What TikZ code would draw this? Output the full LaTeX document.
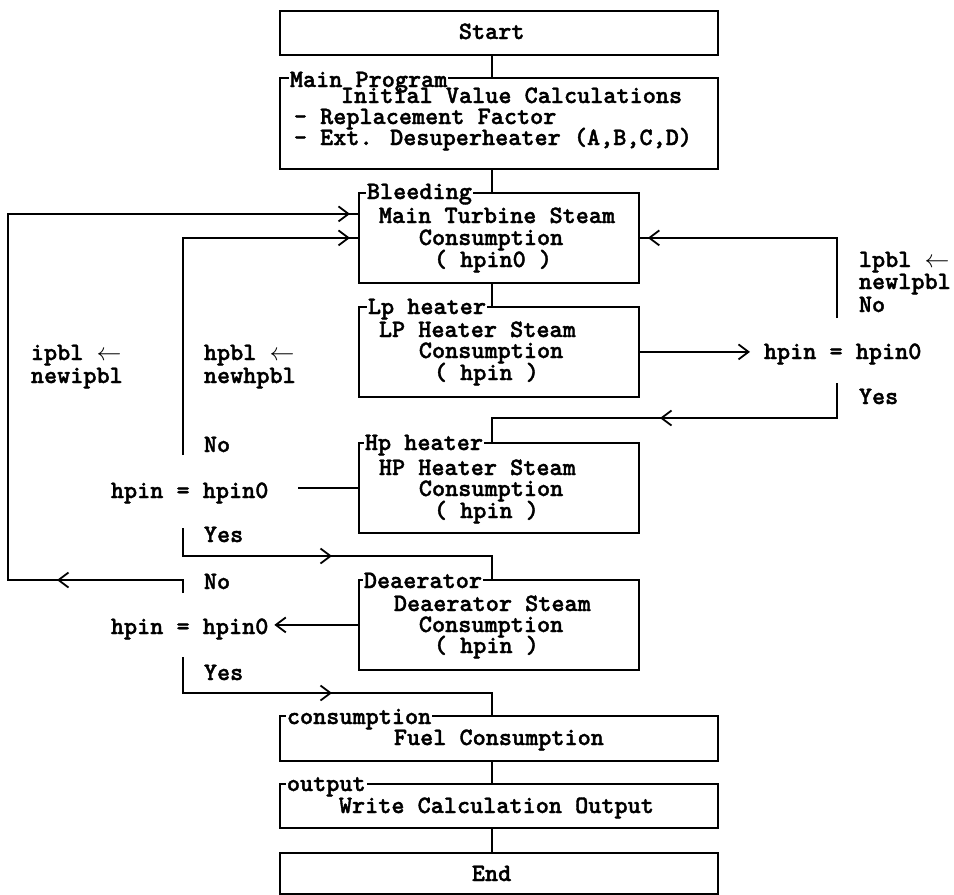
\documentclass[tikz,border=0pt]{standalone}
\usepackage{fontspec}
\usetikzlibrary{arrows.meta,decorations.markings}
\newfontfamily\flowfam{lmmonolt10-bold.otf}[FakeBold=1.5]
\newcommand\flowfont{\flowfam\fontsize{25}{25}\selectfont}
\tikzset{
  x=1pt, y=-1pt,
  every path/.style={line width=1.8pt},
  box/.style={draw, rectangle, anchor=north west, inner sep=0pt, line width=1.8pt},
  txt/.style={anchor=base west, inner sep=0pt, text height=16pt, text depth=4pt, font=\flowfont},
  lbl/.style={txt, fill=white, inner sep=1pt},
  barbtip/.tip={Straight Barb[length=10pt,width=15pt]},
  tip/.style={-barbtip},
  barb/.style={postaction=decorate,
    decoration={markings, mark=at position #1 with {\arrow{barbtip}}}},
}
\begin{document}
\begin{tikzpicture}
\useasboundingbox (0,0) rectangle (954,895);
\coordinate (cx) at (492,0);

% main column of boxes
\node[box, minimum width=438pt, minimum height=44pt] (start) at (279,10) {};
\node[txt] (startT) at (458,39) {Start};

\node[box, minimum width=438pt, minimum height=91pt] (mainp) at (279,77) {};
\node[lbl] (mainpL) at (288,87) {Main Program};
\node[txt] (mainp1) at (340,103) {Initial Value Calculations};
\node[txt] (mainp2) at (293,124) {- Replacement Factor};
\node[txt] (mainp3) at (293,145) {- Ext. Desuperheater (A,B,C,D)};

\node[box, minimum width=280pt, minimum height=90pt] (bleed) at (358,192) {};
\node[lbl] (bleedL) at (365,199) {Bleeding};
\node[txt] (bleed1) at (378,223) {Main Turbine Steam};
\node[txt] (bleed2) at (418,245) {Consumption};
\node[txt] (bleed3) at (433,267) {( hpin0 )};

\node[box, minimum width=280pt, minimum height=90pt] (lp) at (358,306) {};
\node[lbl] (lpL) at (366,314) {Lp heater};
\node[txt] (lp1) at (378,337) {LP Heater Steam};
\node[txt] (lp2) at (418,358) {Consumption};
\node[txt] (lp3) at (433,380) {( hpin )};

\node[box, minimum width=280pt, minimum height=90pt] (hp) at (358,442) {};
\node[lbl] (hpL) at (363,450) {Hp heater};
\node[txt] (hp1) at (378,475) {HP Heater Steam};
\node[txt] (hp2) at (418,496) {Consumption};
\node[txt] (hp3) at (433,518) {( hpin )};

\node[box, minimum width=280pt, minimum height=90pt] (dea) at (358,579) {};
\node[lbl] (deaL) at (362,588) {Deaerator};
\node[txt] (dea1) at (393,611) {Deaerator Steam};
\node[txt] (dea2) at (418,632) {Consumption};
\node[txt] (dea3) at (433,653) {( hpin )};

\node[box, minimum width=438pt, minimum height=45pt] (fuel) at (279,715) {};
\node[lbl] (fuelL) at (285,724) {consumption};
\node[txt] (fuel1) at (393,745) {Fuel Consumption};

\node[box, minimum width=438pt, minimum height=44pt] (out) at (279,783) {};
\node[lbl] (outL) at (285,791) {output};
\node[txt] (out1) at (338,813) {Write Calculation Output};

\node[box, minimum width=438pt, minimum height=41pt] (stop) at (279,852) {};
\node[txt] (stopT) at (471,881) {End};

% decisions and loop labels
\node[txt] (decR) at (763,359) {hpin = hpin0};
\node[txt] (decL1) at (110,498) {hpin = hpin0};
\node[txt] (decL2) at (110,634) {hpin = hpin0};

\node[txt] (lpA) at (858,267) {lpbl $\leftarrow$};
\node[txt] (lpB) at (858,289) {newlpbl};
\node[txt] (rNoT) at (858,312) {No};
\node[txt] (rYesT) at (858,404) {Yes};

\node[txt] (hpA) at (203,360) {hpbl $\leftarrow$};
\node[txt] (hpB) at (203,383) {newhpbl};
\node[txt] (ipA) at (30,360) {ipbl $\leftarrow$};
\node[txt] (ipB) at (30,383) {newipbl};

\node[txt] (l1NoT) at (203,452) {No};
\node[txt] (l1YesT) at (203,542) {Yes};
\node[txt] (l2NoT) at (203,589) {No};
\node[txt] (l2YesT) at (203,680) {Yes};

% straight flow
\draw (start.south -| cx) -- (mainp.north -| cx);
\draw (mainp.south -| cx) -- (bleed.north -| cx);
\draw (bleed.south -| cx) -- (lp.north -| cx);
\draw (fuel.south -| cx) -- (out.north -| cx);
\draw (out.south -| cx) -- (stop.north -| cx);

% LP heater check
\coordinate (rNo) at (837,318);
\coordinate (rYes) at (837,383);
\coordinate (rJoin) at (492,418);
\draw[tip, shorten >=13pt] (lp.east) -- (decR.west |- lp.east);
\draw[barb=-8pt] (rNo) |- (bleed.east);
\draw[barb=212pt] (rYes) |- (rJoin) -- (hp.north -| cx);

% HP heater check
\coordinate (l1No) at (183,455);
\coordinate (l1Yes) at (183,528);
\coordinate (l1Join) at (492,556);
\draw[shorten >=29pt] (hp.west) -- (decL1.east |- hp.west);
\draw[barb=-8pt] (l1No) |- (bleed.west);
\draw[barb=177pt] (l1Yes) |- (l1Join) -- (dea.north -| cx);

% deaerator check
\coordinate (l2No) at (183,593);
\coordinate (l2Out) at (8,580);
\coordinate (l2Yes) at (183,657);
\coordinate (l2Join) at (492,693);
\draw[tip, shorten >=5pt] (dea.west) -- (decL2.east |- dea.west);
\draw[postaction=decorate,
      decoration={markings,
        mark=at position 139pt with {\arrow{barbtip}},
        mark=at position -8pt with {\arrow{barbtip}}}]
  (l2No) |- (l2Out) |- ([yshift=24pt]bleed.west);
\draw[barb=185pt] (l2Yes) |- (l2Join) -- (fuel.north -| cx);
\end{tikzpicture}
\end{document}
